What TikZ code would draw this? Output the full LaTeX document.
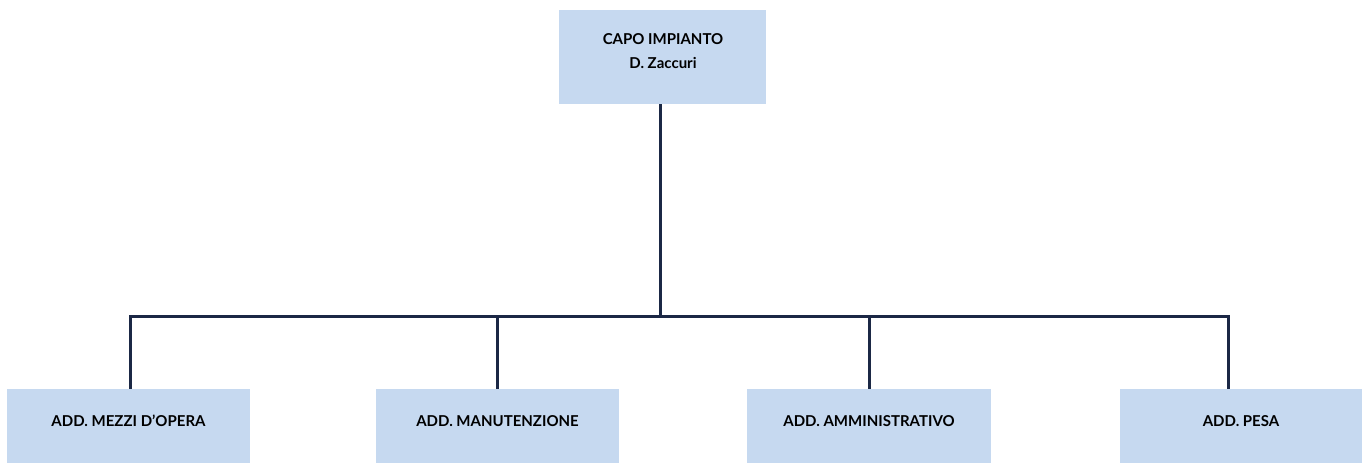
\documentclass[tikz,border=0pt]{standalone}
\usepackage{fontspec}
\setmainfont{Lato}
\definecolor{boxfill}{HTML}{C6D9F0}
\definecolor{linecol}{HTML}{1B2845}
\begin{document}
\begin{tikzpicture}[x=1pt,y=1pt,
  topbox/.style={rectangle, fill=boxfill, draw=none, minimum width=207pt, minimum height=94pt, inner sep=0pt},
  toptext/.style={inner sep=0pt, align=center, font=\bfseries\fontsize{15}{24}\selectfont},
  lowbox/.style={rectangle, fill=boxfill, draw=none, minimum width=243pt, minimum height=94pt, inner sep=0pt, anchor=north},
  lowtext/.style={inner sep=0pt, font=\bfseries\fontsize{15}{17}\selectfont},
  conn/.style={draw=linecol, line width=3pt, line join=miter}]
\useasboundingbox (0,0) rectangle (1368,463);
\fill[white] (0,0) rectangle (1368,463);
\clip (0,0) rectangle (1368,463);
% top box: x 559-766, y(px) 10-104
\node[topbox] (top) at (662.5,406) {};
\node[toptext] (topt) at (663,412) {CAPO IMPIANTO\\D. Zaccuri};
% bottom boxes: top at y(px)=389 -> 74
\node[lowbox, minimum width=243pt] (b1) at (128.5,74) {};
\node[lowbox, minimum width=243pt] (b2) at (497.5,74) {};
\node[lowbox, minimum width=244pt] (b3) at (869,74) {};
\node[lowbox, minimum width=242pt] (b4) at (1241,74) {};
\node[lowtext] (t1) at (128.5,42) {ADD. MEZZI D’OPERA};
\node[lowtext] (t2) at (497.5,42) {ADD. MANUTENZIONE};
\node[lowtext] (t3) at (869,42) {ADD. AMMINISTRATIVO};
\node[lowtext] (t4) at (1241,42) {ADD. PESA};
% connectors
\coordinate (hub) at (660.5,146);
\coordinate (d1) at (130,74);
\coordinate (d2) at (497,74);
\coordinate (d3) at (869,74);
\coordinate (d4) at (1228,74);
\draw[conn] (hub |- top.south) -- (hub);
\draw[conn] (d1) |- (hub) -| (d4);
\draw[conn] (d2) -- (d2 |- hub);
\draw[conn] (d3) -- (d3 |- hub);
\end{tikzpicture}
\end{document}
